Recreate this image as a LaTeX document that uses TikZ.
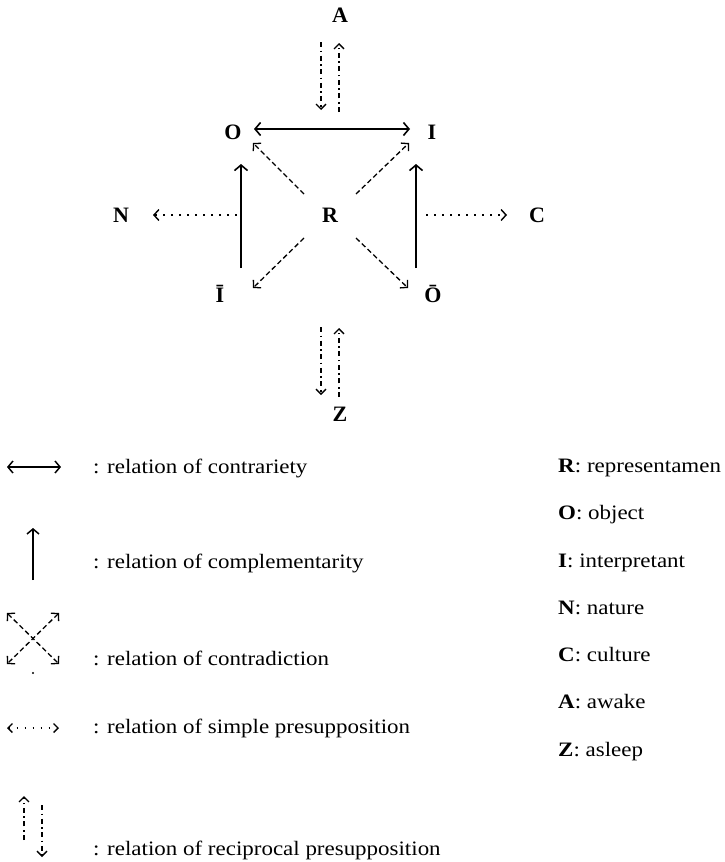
\documentclass[tikz,border=0pt]{standalone}
\usepackage{fontspec}
\setmainfont{Liberation Serif}
\newfontfamily\legfont[FakeStretch=1.12]{Liberation Serif}
\usetikzlibrary{arrows.meta}
\begin{document}
\begin{tikzpicture}[x=1pt,y=-1pt,
  lbl/.style={font=\fontsize{22}{24}\selectfont\bfseries, inner sep=0pt, anchor=base},
  leg/.style={font=\legfont\fontsize{20.5}{24}\selectfont, inner sep=0pt, anchor=base west},
  solidarr/.style={line width=1.6pt, -{Straight Barb[length=5.5pt,width=13pt]}},
  solidboth/.style={line width=1.6pt, {Straight Barb[length=5.5pt,width=13pt]}-{Straight Barb[length=5.5pt,width=13pt]}},
  dasharr/.style={line width=1.3pt, dash pattern=on 5pt off 3pt, -{Straight Barb[length=5pt,width=11pt]}},
  dashboth/.style={line width=1.3pt, dash pattern=on 5pt off 3pt, {Straight Barb[length=5pt,width=11pt]}-{Straight Barb[length=5pt,width=11pt]}},
  dotarr/.style={line width=1.4pt, dash pattern=on 1.6pt off 6.4pt, -{Straight Barb[length=5pt,width=11pt]}},
  dotboth/.style={line width=1.4pt, dash pattern=on 1.6pt off 6.4pt, {Straight Barb[length=4.5pt,width=9pt]}-{Straight Barb[length=4.5pt,width=9pt]}},
  recarr/.style={line width=1.3pt, dash pattern=on 5pt off 3.5pt on 1.6pt off 3.5pt, -{Straight Barb[length=5pt,width=10pt]}}
]
\useasboundingbox (0,0) rectangle (724,862);

% main letters
\node[lbl] (A) at (340,22) {A};
\node[lbl] (O) at (233,139) {O};
\node[lbl] (I) at (432,139) {I};
\node[lbl] (R) at (330,222) {R};
\node[lbl] (N) at (121,222) {N};
\node[lbl] (C) at (537,222) {C};
\node[lbl] (Ib) at (220,302) {Ī};
\node[lbl] (Ob) at (433,302) {Ō};
\node[lbl] (Z) at (340,421) {Z};

% connector end points
\coordinate (a1s) at (321,42);  \coordinate (a1e) at (321,110);
\coordinate (a2s) at (339,112); \coordinate (a2e) at (339,43);
\coordinate (hoL) at (254,129); \coordinate (hoR) at (410,129);
\coordinate (vlB) at (241,268); \coordinate (vlT) at (241,164);
\coordinate (vrB) at (416,268); \coordinate (vrT) at (416,164);
\coordinate (dlS) at (237,215); \coordinate (dlE) at (153,215);
\coordinate (drS) at (426,215); \coordinate (drE) at (507,215);
\coordinate (rTL) at (304,194); \coordinate (oTL) at (253,143);
\coordinate (rTR) at (356,194); \coordinate (oTR) at (409,143);
\coordinate (rBL) at (304,238); \coordinate (oBL) at (253,288);
\coordinate (rBR) at (356,238); \coordinate (oBR) at (408,288);
\coordinate (z1s) at (321,327); \coordinate (z1e) at (321,395);
\coordinate (z2s) at (339,397); \coordinate (z2e) at (339,328);

\draw[recarr] (a1s) -- (a1e);
\draw[recarr] (a2s) -- (a2e);
\draw[solidboth] (hoL) -- (hoR);
\draw[solidarr] (vlB) -- (vlT);
\draw[solidarr] (vrB) -- (vrT);
\draw[dotarr] (dlS) -- (dlE);
\draw[dotarr] (drS) -- (drE);
\draw[dasharr] (rTL) -- (oTL);
\draw[dasharr] (rTR) -- (oTR);
\draw[dasharr] (rBL) -- (oBL);
\draw[dasharr] (rBR) -- (oBR);
\draw[recarr] (z1s) -- (z1e);
\draw[recarr] (z2s) -- (z2e);

% legend symbols
\coordinate (l1a) at (7,467);  \coordinate (l1b) at (61,467);
\coordinate (l2a) at (33,580); \coordinate (l2b) at (33,528);
\coordinate (l3a) at (7,613);  \coordinate (l3b) at (59,664);
\coordinate (l3c) at (59,613); \coordinate (l3d) at (7,664);
\coordinate (l4a) at (7,728);  \coordinate (l4b) at (59,728);
\coordinate (l5a) at (24,840); \coordinate (l5b) at (24,796);
\coordinate (l5c) at (42,805); \coordinate (l5d) at (42,857);

\draw[line width=1.5pt, {Straight Barb[length=5pt,width=12pt]}-{Straight Barb[length=5pt,width=12pt]}] (l1a) -- (l1b);
\draw[line width=1.5pt, -{Straight Barb[length=5pt,width=12pt]}] (l2a) -- (l2b);
\draw[dashboth] (l3a) -- (l3b);
\draw[dashboth] (l3c) -- (l3d);
\fill (33,673) circle (1.2pt);
\draw[dotboth] (l4a) -- (l4b);
\draw[recarr] (l5a) -- (l5b);
\draw[recarr] (l5c) -- (l5d);

% legend texts
\node[leg] (t1) at (93,473) {: relation of contrariety};
\node[leg] (t2) at (93,568) {: relation of complementarity};
\node[leg] (t3) at (93,665) {: relation of contradiction};
\node[leg] (t4) at (93,733) {: relation of simple presupposition};
\node[leg] (t5) at (93,855) {: relation of reciprocal presupposition};

\node[leg] (k1) at (558,472) {\textbf{R}: representamen};
\node[leg] (k2) at (558,519.5) {\textbf{O}: object};
\node[leg] (k3) at (558,567) {\textbf{I}: interpretant};
\node[leg] (k4) at (558,614) {\textbf{N}: nature};
\node[leg] (k5) at (558,661) {\textbf{C}: culture};
\node[leg] (k6) at (558,708) {\textbf{A}: awake};
\node[leg] (k7) at (558,756) {\textbf{Z}: asleep};
\end{tikzpicture}
\end{document}
